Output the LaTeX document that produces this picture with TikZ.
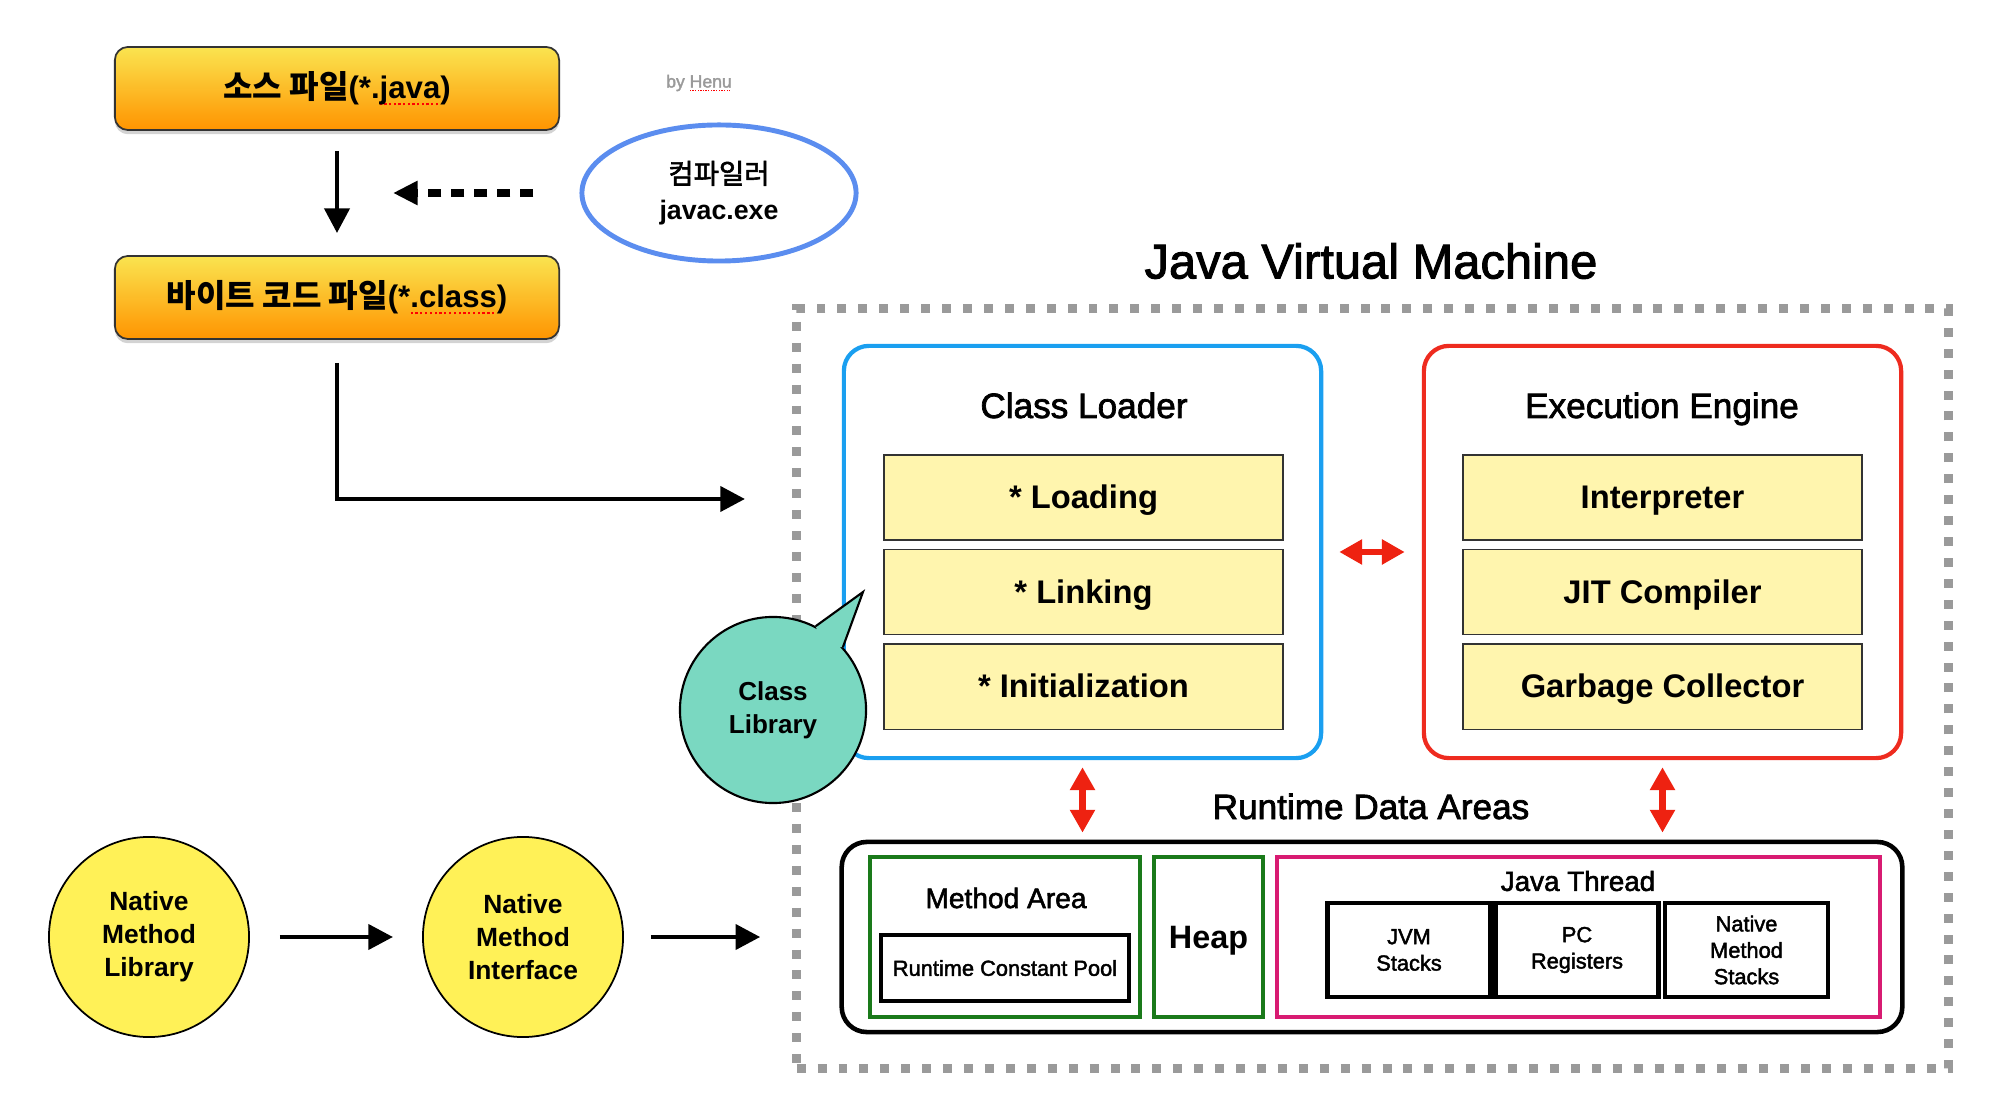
\documentclass[tikz,border=0pt]{standalone}
\usepackage{fontspec}
\setmainfont{Liberation Sans}[UprightFeatures={FakeBold=2}]
\newfontfamily\kofont{Noto Sans CJK KR}[Scale=1.03,UprightFeatures={FakeBold=2}]
\usetikzlibrary{arrows.meta,shapes.geometric,shadows,positioning,calc}

\definecolor{fileyel}{HTML}{FAE450}
\definecolor{fileorg}{HTML}{FF9400}
\definecolor{compblue}{HTML}{5B8DEF}
\definecolor{jvmgray}{HTML}{9A9A9A}
\definecolor{clblue}{HTML}{1A9FF0}
\definecolor{eered}{HTML}{EE2B1F}
\definecolor{arrowred}{HTML}{EE2211}
\definecolor{stagefill}{HTML}{FFF5AE}
\definecolor{mgreen}{HTML}{1A7A1A}
\definecolor{jtpink}{HTML}{D81B72}
\definecolor{clibteal}{HTML}{7AD8C1}
\definecolor{nativeyel}{HTML}{FFF157}

\newcommand\ko[1]{{\kofont #1}}
\newsavebox\spellbox
\newcommand\spellmark[1]{\sbox\spellbox{#1}%
	\rlap{\raisebox{-0.4ex}{\color{red}\hbox to\wd\spellbox{\xleaders\hbox{\rule{0.14ex}{0.14ex}\kern0.14ex}\hfill}}}%
	\usebox\spellbox}

\begin{document}
\begin{tikzpicture}[x=0.01cm,y=-0.01cm,
	filebox/.style={draw=black!80,line width=0.5pt,rounded corners=0.13cm,top color=fileyel,bottom color=fileorg,
		minimum width=4.44cm,minimum height=0.83cm,font=\fontsize{8.85}{11}\selectfont\bfseries,
		drop shadow={shadow xshift=0pt,shadow yshift=-1.2pt,opacity=0.35}},
	compell/.style={ellipse,draw=compblue,line width=1.4pt,minimum width=2.74cm,minimum height=1.36cm,inner sep=0pt,
		align=center,font=\fontsize{7.6}{10.2}\selectfont},
	bytag/.style={text=jvmgray,font=\fontsize{5}{6}\selectfont},
	titletext/.style={font=\fontsize{13.9}{16}\selectfont},
	hdrtext/.style={anchor=base,font=\fontsize{10}{12}\selectfont},
	midtext/.style={font=\fontsize{7.9}{9.5}\selectfont},
	jvmframe/.style={draw=jvmgray,line width=2.5pt,dash pattern=on 2.55pt off 3.4pt,minimum width=11.51cm,minimum height=7.59cm},
	partbox/.style={rounded corners=0.25cm,line width=1.2pt,minimum width=4.77cm,minimum height=4.12cm},
	stagebox/.style={draw=black!80,line width=0.45pt,fill=stagefill,minimum width=3.99cm,minimum height=0.85cm,
		text height=6.7pt,text depth=0.5pt,font=\fontsize{9.3}{11}\selectfont\bfseries},
	rdabox/.style={draw=black,rounded corners=0.25cm,line width=1.3pt,minimum width=10.6cm,minimum height=1.9cm},
	areabox/.style={line width=1.1pt,minimum height=1.6cm},
	cellbox/.style={draw=black,line width=1.2pt,minimum width=1.63cm,minimum height=0.94cm,align=center,
		font=\fontsize{6.2}{7.5}\selectfont},
	nativebub/.style={circle,draw=black,line width=0.5pt,fill=nativeyel,minimum size=2cm,align=center,
		font=\fontsize{7.5}{9.4}\selectfont\bfseries},
	clibbub/.style={circle,draw=black,line width=0.6pt,fill=clibteal,minimum size=1.86cm,align=center,
		font=\fontsize{7.4}{9.4}\selectfont\bfseries},
	blkarrow/.style={line width=1.4pt,-{Triangle[length=7pt,width=7pt]}},
	dasharrow/.style={line width=2pt,dash pattern=on 3.7pt off 2.85pt,-{Triangle[length=7pt,width=6.5pt]}},
	redarrow/.style={draw=arrowred,line width=1.8pt,{Triangle[length=6.5pt,width=6.8pt]}-{Triangle[length=6.5pt,width=6.8pt]}}]
	\useasboundingbox (0,0) rectangle (2000,1116);

	% source side
	\node[filebox] (src) at (337,88.5) {\ko{소스 파일}(*.\spellmark{java})};
	\node[filebox] (byte) at (337,297.5) {\ko{바이트 코드 파일}(*\spellmark{.class})};
	\node[bytag] (by) at (699,83) {by \spellmark{Henu}};
	\node[compell] (comp) at (719,193) {\ko{컴파일러}\\\textbf{javac.exe}};
	\coordinate (mid) at (337,193);
	\coordinate (jvmin) at (745,499);
	\draw[blkarrow,shorten <=0.2cm,shorten >=0.22cm] (src) -- (byte);
	\draw[dasharrow,shorten <=0.46cm,shorten >=0.56cm] (comp.west) -- (mid);
	\draw[blkarrow,shorten <=0.23cm] (byte.south) |- (jvmin);

	% JVM
	\node[titletext] (jvmtitle) at (1371,261) {Java Virtual Machine};
	\node[jvmframe] (jvm) at (1372.5,688.5) {};

	\node[partbox,draw=clblue] (cl) at (1082.5,552) {};
	\node[hdrtext] (cltitle) at (1084,418) {Class Loader};
	\node[stagebox] (load) at (1083.5,497.5) {* Loading};
	\node[stagebox,below=0.08cm of load] (link) {* Linking};
	\node[stagebox,below=0.08cm of link] (init) {* Initialization};

	\node[partbox,draw=eered] (ee) at (1662.5,552) {};
	\node[hdrtext] (eetitle) at (1662,418) {Execution Engine};
	\node[stagebox] (interp) at (1662.5,497.5) {Interpreter};
	\node[stagebox,below=0.08cm of interp] (jit) {JIT Compiler};
	\node[stagebox,below=0.08cm of jit] (gc) {Garbage Collector};

	\node[hdrtext] (rdatitle) at (1371,819) {Runtime Data Areas};
	\node[rdabox] (rda) at (1372,937) {};
	\node[areabox,draw=mgreen,minimum width=2.7cm] (ma) at (1005,937) {};
	\node[font=\fontsize{8}{9.6}\selectfont] (matitle) at (1006,898) {Method Area};
	\node[cellbox,minimum width=2.42cm,minimum height=0.66cm] (rcp) at (1005,968) {Runtime Constant Pool};
	\node[areabox,draw=mgreen,minimum width=1.09cm,text depth=0pt,font=\fontsize{9.2}{11}\selectfont\bfseries] (heap) at (1208.5,937) {Heap};
	\node[areabox,draw=jtpink,minimum width=6.03cm] (jt) at (1578.5,937) {};
	\node[midtext] (jttitle) at (1578,881) {Java Thread};
	\node[cellbox] (jvms) at (1409,950) {JVM\\Stacks};
	\node[cellbox] (pcreg) at (1577,950) {PC\\Registers};
	\node[cellbox] (nms) at (1746.5,950) {Native\\Method\\Stacks};

	\draw[redarrow,shorten <=0.16cm,shorten >=0.17cm] (cl.east) -- (ee.west);
	\draw[redarrow,shorten <=0.07cm,shorten >=0.07cm] (cl.south) -- (cl.south |- rda.north);
	\draw[redarrow,shorten <=0.07cm,shorten >=0.07cm] (ee.south) -- (ee.south |- rda.north);

	% class library bubble
	\node[clibbub] (clib) at (773,710) {Class\\Library};
	\coordinate (cltip) at (863,592);
	\fill[clibteal] (clib.63) -- (cltip) -- (clib.42) -- ($(clib.center)!0.85!(clib.52)$) -- cycle;
	\draw[line width=0.6pt] (clib.63) -- (cltip) -- (clib.42);

	% native side
	\node[nativebub] (nml) at (149,937) {Native\\Method\\Library};
	\node[nativebub] (nmi) at (523,937) {Native\\Method\\Interface};
	\draw[blkarrow,shorten <=0.3cm,shorten >=0.29cm] (nml) -- (nmi);
	\draw[blkarrow,shorten <=0.27cm,shorten >=0.32cm] (nmi.east) -- (nmi.east -| jvm.west);
\end{tikzpicture}
\end{document}
